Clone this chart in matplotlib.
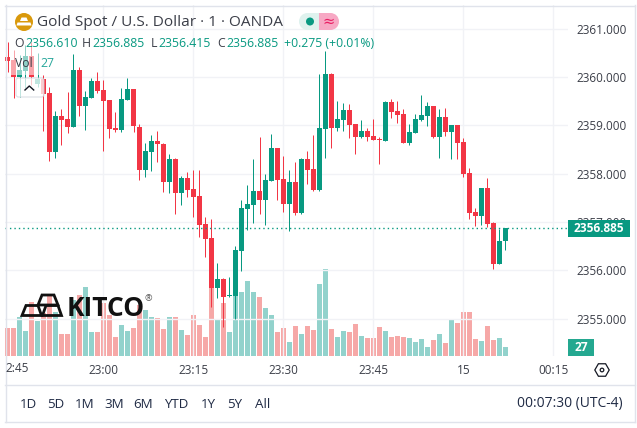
import numpy as np
import matplotlib
matplotlib.use('Agg')
import matplotlib.pyplot as plt
from matplotlib.patches import Circle, Rectangle, Polygon, RegularPolygon, FancyBboxPatch

# 1 minute candles, oldest first
opens = [2360.42, 2360.36, 2360.01, 2360.13, 2360.44, 2359.86, 2359.96, 2359.67, 2358.45, 2359.20, 2359.13, 2358.97,
         2360.15, 2359.40, 2359.57, 2359.92, 2359.74, 2359.53, 2358.95, 2358.91, 2359.53, 2359.76, 2358.97, 2358.08,
         2358.45, 2358.68, 2358.62, 2357.83, 2358.31, 2357.60, 2357.91, 2357.68, 2357.54, 2356.96, 2356.67, 2355.63,
         2355.82, 2355.47, 2355.47, 2356.40, 2357.27, 2357.35, 2357.64, 2357.46, 2357.85, 2358.53, 2357.89, 2357.37,
         2357.83, 2357.19, 2358.31, 2358.10, 2357.66, 2358.93, 2360.07, 2358.95, 2359.11, 2359.32, 2359.03, 2358.76,
         2358.89, 2358.78, 2358.72, 2358.68, 2359.49, 2359.30, 2359.24, 2358.64, 2358.85, 2359.11, 2359.20, 2359.40,
         2358.76, 2359.18, 2358.87, 2359.01, 2358.66, 2358.01, 2357.21, 2357.13, 2357.70, 2356.98, 2356.13, 2356.61]
highs = [2360.73, 2360.56, 2360.46, 2360.67, 2360.73, 2360.50, 2360.05, 2359.80, 2359.30, 2359.34, 2359.69, 2360.48,
         2360.21, 2359.72, 2359.98, 2360.11, 2359.94, 2359.53, 2359.28, 2359.78, 2359.98, 2359.76, 2359.03, 2358.64,
         2358.80, 2358.89, 2358.64, 2358.41, 2358.32, 2357.95, 2358.04, 2358.08, 2358.08, 2357.10, 2357.06, 2356.15,
         2355.84, 2355.86, 2356.50, 2357.46, 2357.77, 2358.31, 2358.76, 2357.99, 2358.82, 2358.54, 2358.37, 2358.08,
         2358.24, 2358.32, 2358.47, 2358.80, 2360.07, 2360.54, 2360.09, 2359.51, 2359.47, 2359.45, 2359.04, 2359.11,
         2358.95, 2359.13, 2358.76, 2359.51, 2359.55, 2359.51, 2359.34, 2359.03, 2359.24, 2359.63, 2359.49, 2359.41,
         2359.34, 2359.36, 2359.02, 2359.02, 2358.74, 2358.12, 2357.29, 2357.71, 2357.91, 2356.99, 2356.86, 2356.885]
lows = [2360.11, 2359.57, 2359.59, 2359.78, 2359.84, 2359.80, 2358.89, 2358.26, 2358.32, 2358.59, 2358.84, 2358.96,
        2359.20, 2358.91, 2359.56, 2359.67, 2358.47, 2358.74, 2358.87, 2358.87, 2359.52, 2358.87, 2357.87, 2357.93,
        2358.06, 2358.24, 2357.62, 2357.60, 2357.17, 2357.35, 2357.52, 2357.10, 2356.69, 2356.27, 2355.24, 2355.42,
        2354.82, 2355.44, 2354.99, 2355.98, 2356.83, 2356.98, 2357.17, 2356.94, 2357.84, 2357.46, 2357.21, 2356.81,
        2357.15, 2357.17, 2357.79, 2357.64, 2357.65, 2358.32, 2358.53, 2358.89, 2358.89, 2358.74, 2358.41, 2358.75,
        2358.68, 2358.69, 2358.20, 2358.67, 2359.16, 2359.05, 2358.63, 2358.59, 2358.84, 2359.09, 2358.99, 2358.75,
        2358.32, 2358.78, 2358.31, 2358.31, 2357.93, 2357.06, 2356.92, 2356.94, 2356.90, 2356.03, 2356.12, 2356.415]
closes = [2360.34, 2360.00, 2360.15, 2360.44, 2360.01, 2359.96, 2359.65, 2358.45, 2359.20, 2359.11, 2358.97, 2360.15,
          2359.40, 2359.59, 2359.92, 2359.72, 2359.51, 2358.93, 2358.91, 2359.55, 2359.76, 2358.99, 2358.08, 2358.47,
          2358.68, 2358.62, 2357.83, 2358.31, 2357.60, 2357.91, 2357.66, 2357.52, 2356.94, 2356.65, 2355.63, 2355.82,
          2355.44, 2355.49, 2356.42, 2357.29, 2357.37, 2357.64, 2357.46, 2357.87, 2358.53, 2357.87, 2357.37, 2357.83,
          2357.19, 2358.31, 2358.08, 2357.66, 2358.95, 2360.07, 2358.95, 2359.13, 2359.32, 2359.01, 2358.76, 2358.89,
          2358.76, 2358.70, 2358.70, 2359.49, 2359.28, 2359.22, 2358.64, 2358.87, 2359.13, 2359.22, 2359.40, 2358.76,
          2359.18, 2358.87, 2359.01, 2358.64, 2357.99, 2357.19, 2357.13, 2357.70, 2356.96, 2356.13, 2356.61, 2356.885]
volumes = [84, 84, 117, 75, 162, 105, 129, 183, 132, 66, 66, 168, 183, 207, 72, 72, 159, 123, 57, 93, 75, 84, 153, 138,
           117, 114, 81, 117, 117, 78, 63, 123, 93, 57, 204, 111, 159, 72, 180, 192, 225, 192, 177, 144, 123, 72, 84, 42,
           90, 66, 90, 78, 216, 261, 81, 57, 75, 72, 96, 60, 54, 54, 87, 75, 57, 60, 57, 54, 42, 51, 27, 48, 66, 39, 111,
           99, 132, 132, 51, 45, 90, 48, 54, 27]
price_ticks = [2355, 2356, 2357, 2358, 2359, 2360, 2361]
time_ticks = [16, 31, 46, 61, 76, 91]
time_labels = ['23:00', '23:15', '23:30', '23:45', '15', '00:15']
range_labels = ['1D', '5D', '1M', '3M', '6M', 'YTD', '1Y', '5Y', 'All']

W, H = 637, 428
GREEN = '#089981'
RED = '#F23645'
INK = '#3b3e48'
plt.rcParams['font.family'] = ['Open Sans', 'DejaVu Sans']

opens = np.array(opens)
closes = np.array(closes)
x = np.arange(len(opens))
up = closes >= opens
colors = [GREEN if u else RED for u in up]

fig = plt.figure(figsize=(W / 100, H / 100), dpi=100, facecolor='white')
rect = [5 / W, 1 - 356 / H, 563 / W, 351 / H]
# 6 px per candle, centres on pixel centres
xlim = (-2.5 / 6, 560.5 / 6)

# volume sits under the candles
vol = fig.add_axes(rect, zorder=1)
vol.bar(x, volumes, width=5 / 6, color=['#26a69a' if u else '#ef5350' for u in up], alpha=0.5, linewidth=0)
vol.set_xlim(*xlim)
vol.set_ylim(0, 1053)
vol.axis('off')

ax = fig.add_axes(rect, zorder=2)
ax.patch.set_visible(False)
ax.vlines(x, lows, highs, colors=colors, linewidth=0.72, zorder=3)
ax.bar(x, np.abs(closes - opens), bottom=np.minimum(opens, closes), width=5 / 6, color=colors, linewidth=0, zorder=4)
ax.axhline(closes[-1], color=GREEN, linewidth=1, linestyle=(0, (1, 2.2)), zorder=5)
ax.set_xlim(*xlim)
ax.set_ylim(2354.223, 2361.497)
ax.yaxis.tick_right()
ax.set_yticks(price_ticks)
ax.set_yticklabels(['%.3f' % p for p in price_ticks])
ax.set_xticks(time_ticks)
ax.set_xticklabels(time_labels)
ax.tick_params(length=0, labelsize=8.5, labelcolor=INK)
ax.tick_params(axis='y', pad=6)
ax.tick_params(axis='x', pad=6)
ax.grid(True, color='#f1f2f6', linewidth=1, zorder=0)
ax.set_axisbelow(True)
for s in ax.spines.values():
    s.set_visible(False)

# everything around the chart, in pixels
top = fig.add_axes([0, 0, 1, 1], zorder=3)
top.set_xlim(0, W)
top.set_ylim(H, 0)
top.axis('off')

for xs, ys in [([5.5, 5.5], [5, 422]), ([5, 635], [5.5, 5.5]), ([635, 635], [5, 422]), ([5, 635], [422, 422]), ([5, 635], [384.5, 384.5])]:
    top.plot(xs, ys, color='#e0e3eb', linewidth=1)

# legend backgrounds wash out the candles behind them
top.add_patch(Rectangle((11, 34), 47, 41, facecolor='white', alpha=0.55, linewidth=0))
top.add_patch(FancyBboxPatch((16, 78), 28, 19, boxstyle='round,pad=0,rounding_size=2.5', facecolor='white', alpha=0.75,
                             edgecolor='#d1d4dc', linewidth=0.8))
top.plot([25, 29.3, 33.7], [90, 86, 90], color='#131722', linewidth=1)

# gold icon
top.add_patch(Circle((24, 22), 9, color='#d9990c', linewidth=0))
top.add_patch(Polygon([[21.5, 17.5], [26.5, 17.5], [28, 21], [20, 21]], color='white', linewidth=0))
top.add_patch(Polygon([[17.5, 22.5], [30.5, 22.5], [31.5, 25.5], [16.5, 25.5]], color='white', linewidth=0))

top.text(37, 22, 'Gold Spot / U.S. Dollar · 1 · OANDA', fontsize=11.1, color=INK, va='center', ha='left')

# market status pill
top.add_patch(Circle((307.5, 21.5), 8.5, color='#dff2ee', linewidth=0))
top.add_patch(Rectangle((307.5, 13), 11.5, 17, color='#dff2ee', linewidth=0))
top.add_patch(Circle((330.5, 21.5), 8.5, color='#f7a8c4', linewidth=0))
top.add_patch(Rectangle((319, 13), 11.5, 17, color='#f7a8c4', linewidth=0))
top.add_patch(Circle((310, 21.5), 4, color=GREEN, linewidth=0))
top.text(329, 21, '≈', fontsize=10.5, color='#e91e63', ha='center', va='center', family='DejaVu Sans')

# OHLC row
for px, s, c in [(14, 'O', INK), (25, '2356.610', GREEN), (82, 'H', INK), (92, '2356.885', GREEN), (151, 'L', INK),
                 (158, '2356.415', GREEN), (217, 'C', INK), (226, '2356.885', GREEN), (284, '+0.275 (+0.01%)', GREEN)]:
    top.text(px, 43, s, fontsize=8.8, color=c, va='center', ha='left')
top.text(15, 63, 'Vol', fontsize=8.8, color=INK, va='center', ha='left')
top.text(40, 63, '27', fontsize=8.8, color='#26a69a', va='center', ha='left')

# kitco logo
for pts in [[[38, 305], [42, 295], [54, 295], [58, 305]], [[22, 315.5], [26, 305.5], [38, 305.5], [41.5, 315.5]],
            [[42.5, 315.5], [46, 305.5], [58, 305.5], [61.5, 315.5]]]:
    top.add_patch(Polygon(pts, closed=True, fill=False, edgecolor='#111111', linewidth=2))
top.text(67, 316, 'KITCO', fontsize=19, fontweight='bold', color='#111111', va='baseline', ha='left')
top.text(148, 299, '®', fontsize=6.5, color='#555555', va='center', ha='center')

# last price and volume tags
top.add_patch(Rectangle((568, 220), 62, 17, color=GREEN, linewidth=0))
top.text(599, 228.5, '2356.885', fontsize=8.6, fontweight='bold', color='white', va='center', ha='center')
top.add_patch(Rectangle((568, 339), 26, 17, color='#24a890', linewidth=0))
top.text(581, 347.5, '27', fontsize=8.6, fontweight='bold', color='white', va='center', ha='center')

# clipped first time label
top.text(5.5, 368.5, '2:45', fontsize=8.5, color=INK, va='center', ha='left')

# settings icon
top.add_patch(RegularPolygon((602, 370), 6, radius=7.2, orientation=np.pi / 2, fill=False, edgecolor='#131722', linewidth=0.9))
top.add_patch(Circle((602, 370), 1.8, fill=False, edgecolor='#131722', linewidth=0.9))

# bottom toolbar
for px, s in zip([28, 56, 85, 114, 143, 176, 208, 235, 263], range_labels):
    top.text(px, 404, s, fontsize=9.6, color='#1f2a44', va='center', ha='center')
top.text(623, 404, '00:07:30 (UTC-4)', fontsize=10, color='#1f2a44', va='center', ha='right')

fig.savefig('out.png', dpi=100, facecolor='white')
